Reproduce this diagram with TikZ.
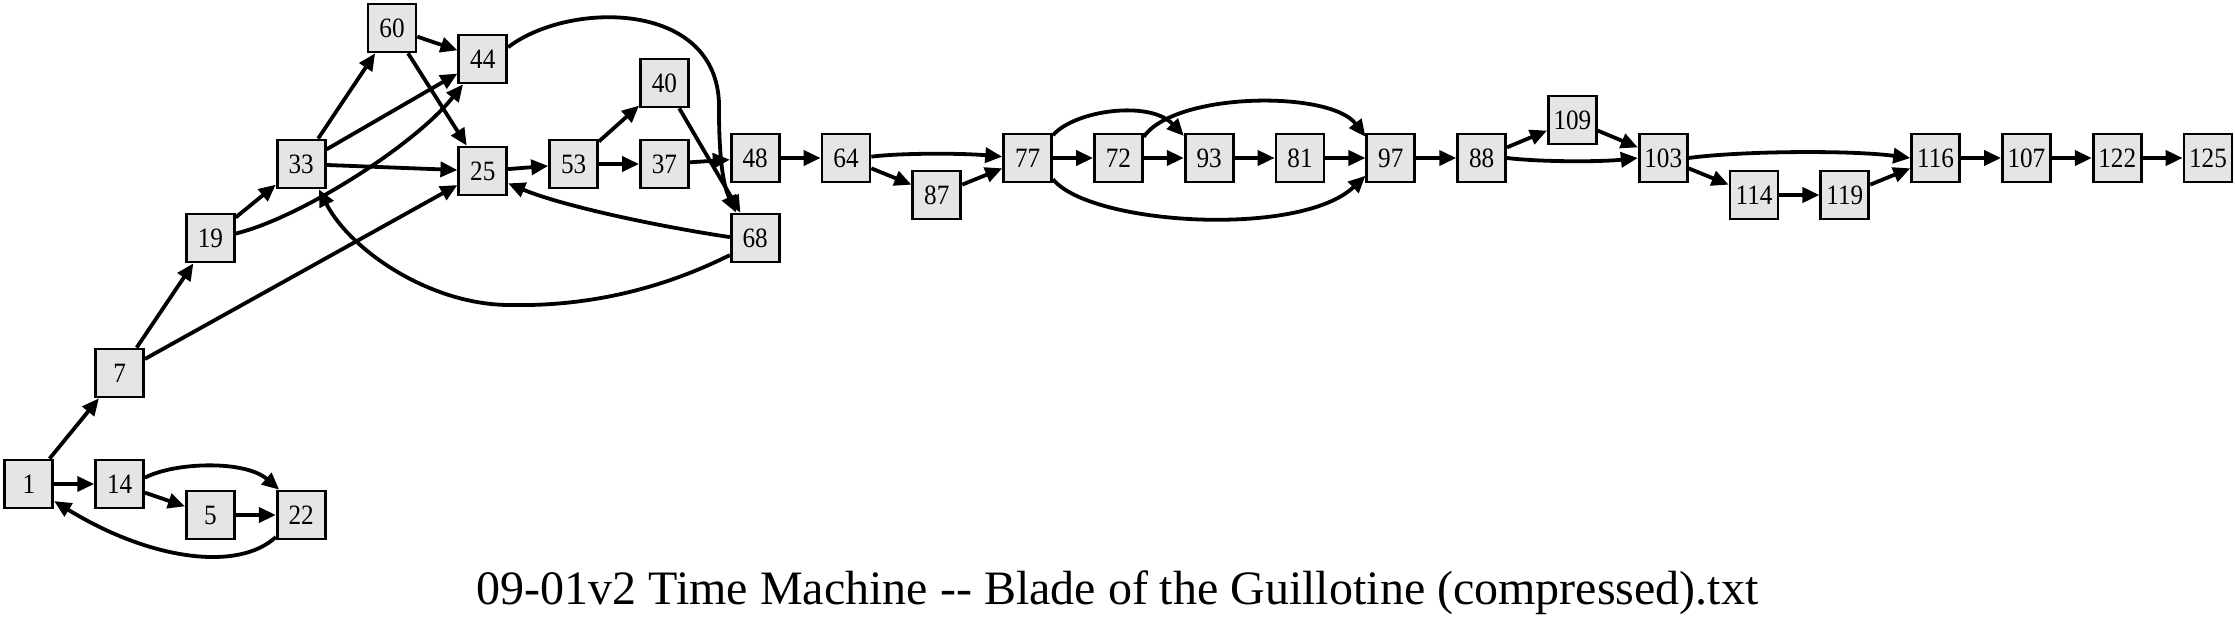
\documentclass[tikz,border=0pt]{standalone}
\usepackage{fontspec}
\setmainfont{Liberation Serif}
\newfontfamily\boxfont[FakeStretch=0.9]{Liberation Serif}
\usetikzlibrary{arrows.meta}

\begin{document}
\begin{tikzpicture}[x=1pt, y=-1pt,
    box/.style={draw, line width=2.7pt, fill=gray!20, minimum width=48pt, minimum height=48pt, inner sep=0pt, font=\boxfont\fontsize{28}{28}\selectfont},
    edge/.style={line width=3.8pt, -{Triangle[length=17pt, width=15pt]}}]
  \useasboundingbox (0,0) rectangle (2235,626);

  \node[box] (n1) at (28.8,484) {1};
  \node[box] (n14) at (119.6,484) {14};
  \node[box] (n7) at (119.6,373) {7};
  \node[box] (n19) at (210.4,238) {19};
  \node[box] (n5) at (210.4,515) {5};
  \node[box] (n33) at (301.2,164) {33};
  \node[box] (n22) at (301.2,515) {22};
  \node[box] (n60) at (392,28) {60};
  \node[box] (n44) at (482.8,59) {44};
  \node[box] (n25) at (482.8,171) {25};
  \node[box] (n53) at (573.6,164) {53};
  \node[box] (n40) at (664.4,83) {40};
  \node[box] (n37) at (664.4,164) {37};
  \node[box] (n48) at (755.2,158) {48};
  \node[box] (n68) at (755.2,238) {68};
  \node[box] (n64) at (846,158) {64};
  \node[box] (n87) at (936.8,195) {87};
  \node[box] (n77) at (1027.6,158) {77};
  \node[box] (n72) at (1118.4,158) {72};
  \node[box] (n93) at (1209.2,158) {93};
  \node[box] (n81) at (1300,158) {81};
  \node[box] (n97) at (1390.8,158) {97};
  \node[box] (n88) at (1481.6,158) {88};
  \node[box] (n109) at (1572.4,120) {109};
  \node[box] (n103) at (1663.2,158) {103};
  \node[box] (n114) at (1754,195) {114};
  \node[box] (n119) at (1844.8,195) {119};
  \node[box] (n116) at (1935.6,158) {116};
  \node[box] (n107) at (2026.4,158) {107};
  \node[box] (n122) at (2117.2,158) {122};
  \node[box] (n125) at (2208,158) {125};

  \draw[edge] (n1) -- (n7);
  \draw[edge] (n1) -- (n14);
  \draw[edge] (n14) -- (n5);
  \draw[edge] (n14.14) .. controls (175,462) and (245,460) .. (n22.131);
  \draw[edge] (n5) -- (n22);
  \draw[edge] (n22.221) .. controls (238,572) and (150,560) .. (n1.326);
  \draw[edge] (n7) -- (n19);
  \draw[edge] (n7) -- (n25);
  \draw[edge] (n19) -- (n33);
  \draw[edge] (n19.10) .. controls (300,218) and (415,145) .. (n44.232);
  \draw[edge] (n33) -- (n60);
  \draw[edge] (n33) -- (n44);
  \draw[edge] (n33) -- (n25);
  \draw[edge] (n60) -- (n44);
  \draw[edge] (n60) -- (n25);
  \draw[edge] (n44.25) .. controls (570,0) and (722,0) .. (719,110) .. controls (719,180) and (728,195) .. (n68.127);
  \draw[edge] (n25) -- (n53);
  \draw[edge] (n53) -- (n40);
  \draw[edge] (n53) -- (n37);
  \draw[edge] (n37) -- (n48);
  \draw[edge] (n40) -- (n68);
  \draw[edge] (n68.178) .. controls (650,225) and (560,205) .. (n25.334);
  \draw[edge] (n68.214) .. controls (640,300) and (560,306) .. (510,305) .. controls (430,305) and (350,250) .. (n33.305);
  \draw[edge] (n48) -- (n64);
  \draw[edge] (n64.3) .. controls (900,153) and (960,153) .. (n77.177);
  \draw[edge] (n64) -- (n87);
  \draw[edge] (n87) -- (n77);
  \draw[edge] (n77) -- (n72);
  \draw[edge] (n77.42) .. controls (1075,110) and (1150,100) .. (n93.139);
  \draw[edge] (n77.320) .. controls (1090,225) and (1300,238) .. (n97.215);
  \draw[edge] (n72) -- (n93);
  \draw[edge] (n72.40) .. controls (1175,92) and (1330,90) .. (n97.140);
  \draw[edge] (n93) -- (n81);
  \draw[edge] (n81) -- (n97);
  \draw[edge] (n97) -- (n88);
  \draw[edge] (n88) -- (n109);
  \draw[edge] (n88.east) .. controls (1540,162) and (1600,162) .. (n103.west);
  \draw[edge] (n109) -- (n103);
  \draw[edge] (n103.east) .. controls (1740,151) and (1850,150) .. (n116.west);
  \draw[edge] (n103) -- (n114);
  \draw[edge] (n114) -- (n119);
  \draw[edge] (n119) -- (n116);
  \draw[edge] (n116) -- (n107);
  \draw[edge] (n107) -- (n122);
  \draw[edge] (n122) -- (n125);

  \node[anchor=base, font=\fontsize{48}{48}\selectfont] (title) at (1117.5,604) {09-01v2 Time Machine -{}- Blade of the Guillotine (compressed).txt};
\end{tikzpicture}
\end{document}
